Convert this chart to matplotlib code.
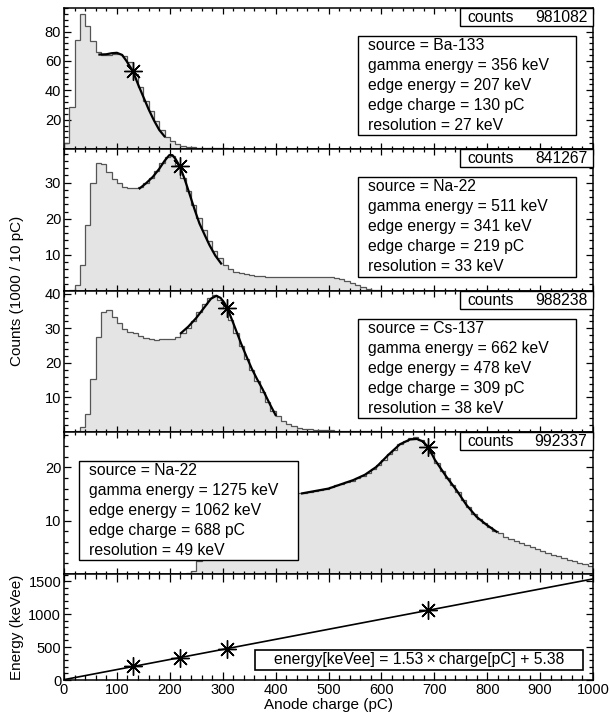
import numpy as np
import matplotlib
matplotlib.use("Agg")
import matplotlib.pyplot as plt
from matplotlib.patches import Rectangle
from matplotlib.ticker import MultipleLocator, FixedLocator

plt.rcParams['font.family'] = ['Liberation Sans', 'DejaVu Sans']

# 10 pC bins from 0 to 1000 pC, counts in units of 1000
bin_edges = np.arange(0, 1001, 10)

ba133 = [4, 28.6, 74, 92, 84, 73.4, 66, 64, 64.3, 65,
         65, 63.6, 59, 51, 42, 33, 26, 19, 13, 8.5,
         5.5, 3.4, 2.3, 1.7, 1.3, 1.0, 0.8, 0.6, 0.5, 0.4,
         0.35, 0.3, 0.3, 0.25, 0.25, 0.2, 0.2, 0.2, 0.15, 0.15,
         0.1, 0.1, 0.1, 0.1, 0.1, 0.1, 0.1, 0.1, 0.1, 0.1,
         0.05, 0.05, 0.05, 0.05, 0.05, 0.05, 0.05, 0.05, 0.05, 0.05,
         0, 0, 0, 0, 0, 0, 0, 0, 0, 0,
         0, 0, 0, 0, 0, 0, 0, 0, 0, 0,
         0, 0, 0, 0, 0, 0, 0, 0, 0, 0,
         0, 0, 0, 0, 0, 0, 0, 0, 0, 0]

na22_511 = [0, 0.2, 1.6, 7.2, 18.2, 30, 35.5, 35.1, 32.8, 31,
            29.8, 28.9, 28.6, 28.4, 28.8, 30, 31.4, 33.3, 35.3, 37.1,
            37.4, 34.8, 31.4, 27.6, 23.8, 20.2, 16.8, 13.8, 11.2, 9.0,
            7.2, 6.0, 5.3, 4.9, 4.6, 4.4, 4.2, 4.1, 4.0, 4.0,
            3.9, 3.9, 3.9, 3.9, 3.9, 4.0, 4.0, 4.0, 3.9, 3.9,
            3.8, 3.7, 3.3, 2.8, 2.2, 1.6, 1.1, 0.6, 0.3, 0.15,
            0.1, 0.05, 0.05, 0, 0, 0, 0, 0, 0, 0,
            0, 0, 0, 0, 0, 0, 0, 0, 0, 0,
            0, 0, 0, 0, 0, 0, 0, 0, 0, 0,
            0, 0, 0, 0, 0, 0, 0, 0, 0, 0]

cs137 = [0, 0, 0.3, 1.5, 5.3, 15.4, 27.6, 34.7, 35.3, 33.2,
         31.5, 29.8, 28.9, 28.6, 27.8, 27.2, 26.8, 26.6, 26.9, 26.8,
         27.0, 27.4, 28.6, 30.0, 32.0, 34.7, 37.0, 38.7, 39.5, 38.3,
         35.8, 32.5, 28.7, 24.9, 21.1, 17.9, 14.9, 11.6, 8.7, 6.2,
         4.5, 3.3, 2.3, 1.7, 1.3, 1.0, 0.85, 0.7, 0.6, 0.5,
         0.45, 0.4, 0.35, 0.3, 0.3, 0.25, 0.2, 0.2, 0.2, 0.15,
         0.1, 0.1, 0.1, 0.1, 0.1, 0.05, 0.05, 0.05, 0.05, 0.05,
         0, 0, 0, 0, 0, 0, 0, 0, 0, 0,
         0, 0, 0, 0, 0, 0, 0, 0, 0, 0,
         0, 0, 0, 0, 0, 0, 0, 0, 0, 0]

na22_1275 = [0, 0, 0, 0, 0, 0, 0, 0, 0, 0,
             0, 0, 0, 0, 0, 0, 0, 0, 0, 0,
             0, 0, 0, 0.15, 0.6, 2.4, 6, 9, 11, 12.2,
             12.9, 13.3, 13.6, 13.8, 14.0, 14.2, 14.3, 14.4, 14.5, 14.6,
             14.7, 14.7, 14.8, 14.8, 15.1, 15.2, 15.4, 15.6, 15.8, 16.0,
             16.3, 16.6, 16.9, 17.2, 17.5, 18.0, 18.4, 19.0, 19.7, 20.5,
             21.4, 22.5, 23.3, 24.3, 24.9, 25.5, 25.6, 25.1, 24.1, 22.6,
             20.8, 19.3, 17.9, 16.6, 15.3, 13.8, 12.5, 11.3, 10.3, 9.5,
             8.8, 8.1, 7.6, 7.0, 6.6, 6.2, 5.8, 5.4, 5.0, 4.7,
             4.3, 3.9, 3.6, 3.3, 3.0, 2.7, 2.4, 2.1, 1.8, 1.5]

# edge fit curves (charge pC, counts)
fit1_x = [67, 80, 90, 100, 110, 118, 124, 130, 140, 150, 160, 170, 180, 190]
fit1_y = [64.3, 64.5, 65.2, 65.5, 64.0, 60.0, 56.5, 53.2, 44, 35.5, 27, 19.5, 13, 8.6]
fit2_x = [143, 155, 168, 180, 190, 199, 205, 211, 219, 228, 237, 247, 256, 266, 275, 286, 297]
fit2_y = [28.4, 29.8, 31.6, 33.8, 36.0, 37.6, 37.6, 36.5, 34.5, 31, 27, 22.5, 18.7, 15.5, 12.7, 9.8, 7.6]
fit3_x = [221, 235, 250, 265, 278, 288, 296, 303, 309, 320, 335, 344, 355, 365, 375, 390, 400]
fit3_y = [28.6, 30.5, 33, 36, 38.6, 39.4, 38.8, 37.4, 35.8, 31.5, 25.5, 22.2, 18.3, 15.3, 12.5, 7.8, 4.9]
fit4_x = [450, 500, 547, 569, 591, 613, 635, 654, 667, 679, 689, 701, 723, 742, 761, 780, 799, 818]
fit4_y = [15.1, 16.0, 17.6, 18.6, 20.1, 22.3, 24.3, 25.2, 25.3, 24.8, 23.7, 21.4, 18.2, 15.7, 12.9, 10.7, 9.2, 7.9]

sources = ['Ba-133', 'Na-22', 'Cs-137', 'Na-22']
gamma_energy = [356, 511, 662, 1275]
edge_energy = [207, 341, 478, 1062]
edge_charge = [130, 219, 309, 688]
edge_counts = [53.2, 34.5, 35.8, 23.7]
resolution = [27, 33, 38, 49]
total_counts = [981082, 841267, 988238, 992337]

slope = 1.53
offset = 5.38

fig = plt.figure(figsize=(6.09, 7.15), dpi=100)
L, W = 64 / 609, 529 / 609
panel_px = [(8, 149), (149, 291), (291, 432), (432, 574), (574, 680)]
axes = [fig.add_axes([L, 1 - b / 715, W, (b - t) / 715]) for t, b in panel_px]

hists = [ba133, na22_511, cs137, na22_1275]
fits = [(fit1_x, fit1_y), (fit2_x, fit2_y), (fit3_x, fit3_y), (fit4_x, fit4_y)]
ytops = [96, 39.3, 40.8, 26.6]
yticks = [[20, 40, 60, 80], [10, 20, 30], [10, 20, 30, 40], [10, 20]]
yminor = [4, 2, 2, 2]
boxes = [(0.556, 0.099, 0.968, 0.801), (0.556, 0.099, 0.968, 0.803),
         (0.556, 0.099, 0.968, 0.801), (0.028, 0.099, 0.442, 0.796)]
fs = 11.3


def style_axis(ax, xlen):
    for s in ax.spines.values():
        s.set_linewidth(1.1)
    ax.set_xlim(0, 1000)
    ax.xaxis.set_major_locator(MultipleLocator(100))
    ax.xaxis.set_minor_locator(MultipleLocator(20))
    ax.tick_params(which='both', direction='in', top=True, right=True,
                   labelsize=10.5, width=0.9, pad=2)
    ax.tick_params(axis='x', which='major', length=xlen)
    ax.tick_params(axis='x', which='minor', length=xlen * 0.55)
    ax.tick_params(axis='y', which='major', length=5)
    ax.tick_params(axis='y', which='minor', length=2.8)


for i, ax in enumerate(axes[:4]):
    ax.stairs(hists[i], bin_edges, fill=True, color='#e4e4e4', zorder=1)
    ax.stairs(hists[i], bin_edges, color='#555555', lw=0.9, zorder=2)
    ax.plot(fits[i][0], fits[i][1], color='black', lw=1.6, zorder=3)
    ax.plot(edge_charge[i], edge_counts[i], marker=(8, 2, 0), ms=13,
            mec='black', mew=1.0, color='black', zorder=4)
    ax.set_ylim(0, ytops[i])
    ax.yaxis.set_major_locator(FixedLocator(yticks[i]))
    ax.yaxis.set_minor_locator(MultipleLocator(yminor[i]))
    style_axis(ax, 4)
    ax.tick_params(labelbottom=False)

    # stats box
    ax.add_patch(Rectangle((0.7486, 0.872), 0.2514, 0.128, transform=ax.transAxes,
                           facecolor='white', edgecolor='black', lw=1.0,
                           clip_on=False, zorder=5))
    ax.text(0.762, 0.936, 'counts', transform=ax.transAxes, fontsize=fs,
            ha='left', va='center', zorder=6)
    ax.text(0.989, 0.936, str(total_counts[i]), transform=ax.transAxes,
            fontsize=fs, ha='right', va='center', zorder=6)

    # info box
    x0, y0, x1, y1 = boxes[i]
    ax.add_patch(Rectangle((x0, y0), x1 - x0, y1 - y0, transform=ax.transAxes,
                           facecolor='white', edgecolor='black', lw=1.0,
                           clip_on=False, zorder=5))
    lines = ['source = %s' % sources[i],
             'gamma energy = %d keV' % gamma_energy[i],
             'edge energy = %d keV' % edge_energy[i],
             'edge charge = %d pC' % edge_charge[i],
             'resolution = %d keV' % resolution[i]]
    row = (y1 - y0) / 5
    for k, txt in enumerate(lines):
        ax.text(x0 + 10 / 529, y1 - row * (k + 0.5), txt, transform=ax.transAxes,
                fontsize=fs, ha='left', va='center', zorder=6)

# calibration panel
ax = axes[4]
xs = np.array([0, 1000])
ax.plot(xs, slope * xs + offset, color='black', lw=1.2, zorder=2)
ax.plot(edge_charge, edge_energy, ls='none', marker=(8, 2, 0), ms=13,
        mec='black', mew=1.0, zorder=3)
ax.set_ylim(0, 1610)
ax.yaxis.set_major_locator(FixedLocator([0, 500, 1000, 1500]))
ax.yaxis.set_minor_locator(MultipleLocator(100))
style_axis(ax, 6)
ax.add_patch(Rectangle((0.361, 0.094), 0.620, 0.189, transform=ax.transAxes,
                       facecolor='white', edgecolor='black', lw=1.2,
                       clip_on=False, zorder=5))
ax.text(0.671, 0.19, 'energy[keVee] = %.2f\u2009\u00d7\u2009charge[pC] + %.2f' % (slope, offset),
        transform=ax.transAxes, fontsize=fs, ha='center', va='center', zorder=6)
ax.set_xlabel('Anode charge (pC)', fontsize=11, labelpad=0)
ax.xaxis.set_label_coords(0.5, -0.17)

fig.text(17.5 / 609, 1 - 627 / 715, 'Energy (keVee)', rotation=90, fontsize=11,
         ha='center', va='center')
fig.text(17.5 / 609, 1 - 291 / 715, 'Counts (1000 / 10 pC)', rotation=90, fontsize=11,
         ha='center', va='center')

fig.savefig('out.png', dpi=100)
